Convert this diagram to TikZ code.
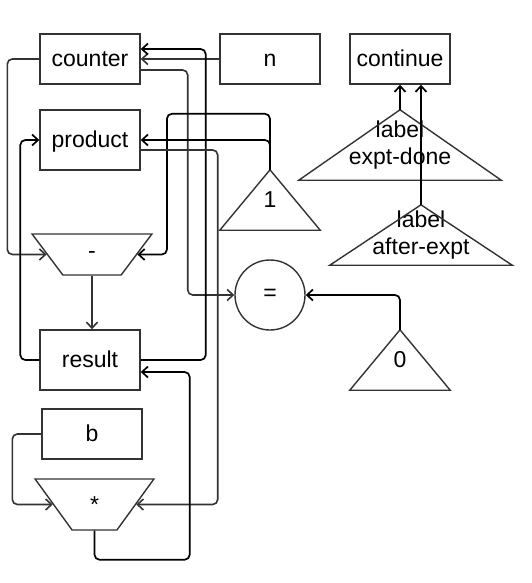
\documentclass[tikz,border=0pt]{standalone}
\usepackage{fontspec}
\setmainfont{Liberation Sans}
\usepackage{xcolor}
\usepackage{tikz}
\usetikzlibrary{shapes.geometric}
\usetikzlibrary{arrows.meta}
\usetikzlibrary{calc}
\definecolor{shape_gray}{HTML}{333333}
\tikzset{ reg_box/.style = {rectangle, draw=shape_gray, line width=1.4pt, minimum width=100pt, minimum height=50pt, inner sep=0pt, text height=15.5pt, text depth=0pt} }
\tikzset{ op_trap/.style = {trapezium, shape border rotate=180, trapezium stretches=true, draw=shape_gray, line width=1.4pt, inner sep=0pt} }
\tikzset{ test_circ/.style = {circle, draw=shape_gray, line width=1.4pt, minimum size=70pt, inner sep=0pt} }
\tikzset{ const_tri/.style = {rectangle, minimum width=100pt, minimum height=60pt, inner sep=0pt, align=center} }
\tikzset{ wire/.style = {draw=shape_gray, line width=1.6pt, rounded corners=5pt} }
\tikzset{ wire_k/.style = {draw=black, line width=1.7pt, rounded corners=5pt} }
\tikzset{ every picture/.style = {>={Straight Barb[length=6pt,width=11pt]}} }

\begin{document}
\begin{tikzpicture}[x=1pt, y=-1pt, font=\fontsize{23}{27}\selectfont]
    \useasboundingbox (0,0) rectangle (532,583);
    % registers
    \node[reg_box] (counter) at (90,59) {counter};
    \node[reg_box] (n) at (270,59) {n};
    \node[reg_box] (continue) at (400,59) {continue};
    \node[reg_box, minimum height=60pt] (product) at (90,140) {product};
    \node[reg_box, minimum height=60pt] (result) at (90,360) {result};
    \node[reg_box] (b) at (92,434) {b};
    % operations
    \node[op_trap, minimum width=120pt, minimum height=41pt, trapezium angle=60] (minus) at (92,254.5) {-};
    \node[op_trap, minimum width=119pt, minimum height=51pt, trapezium angle=65] (times) at (94.5,504.5) {*};
    \node[test_circ] (eq) at (270,295) {=};
    % constants and labels
    \node[const_tri] (one) at (270,200) {1};
    \node[const_tri] (zero) at (400,360) {0};
    \node[const_tri, minimum width=202pt, minimum height=70pt] (done) at (400,145) {label\\expt-done};
    \node[const_tri, minimum width=182pt, minimum height=60pt] (after) at (421,235) {label\\after-expt};
    \foreach \t in {one,zero,done,after}
        \draw[draw=shape_gray, line width=1.4pt] (\t.north) -- (\t.south east) -- (\t.south west) -- cycle;
    % data paths
    \draw[wire,->] (counter.west) -- ++(-32,0) |- (minus.west);
    \draw[wire,->] ([yshift=-11pt]counter.east) -- ++(47,0) |- (eq.west);
    \draw[wire,->] (n.west) -- (counter.east);
    \draw[wire_k,->] (result.east) -- ++(65,0) |- ([yshift=10pt]counter.east);
    \draw[wire_k,->] (one.north) |- (product.east);
    \draw[wire_k,->] (one.north) -- ++(0,-56) -| ($(minus.east)+(29.5,0)$) -- (minus.east);
    \draw[wire_k,->] (result.west) -- ++(-19,0) |- (product.west);
    \draw[wire,->] ([yshift=-10pt]product.east) -- ++(77,0) |- (times.east);
    \draw[wire,->] (minus.south) -- (minus.south |- result.north);
    \draw[wire,->] (b.west) -- ++(-29,0) |- (times.west);
    \draw[wire_k,->] (times.south) -- ++(0,29) -| ($(result.east)+(49,12)$) -- ([yshift=-12pt]result.east);
    \draw[wire_k,->] (zero.north) |- (eq.east);
    \draw[wire_k,->] (done.north) -- (done.north |- continue.south);
    \draw[wire_k,->] (after.north) -- (after.north |- continue.south);
\end{tikzpicture}
\end{document}
